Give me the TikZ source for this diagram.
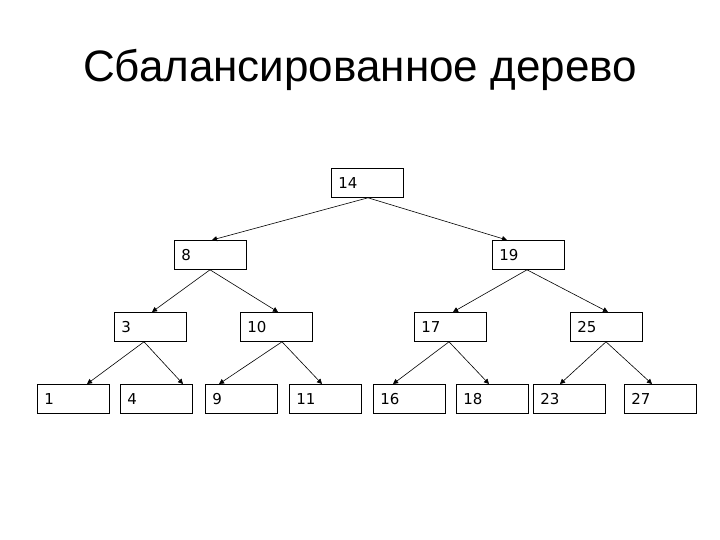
\documentclass[tikz,border=0pt]{standalone}
\usepackage{fontspec}
\setmainfont{Liberation Sans}
\newfontfamily\boxfont{DejaVu Sans}
\usetikzlibrary{arrows.meta}
\begin{document}
\begin{tikzpicture}[x=1pt,y=-1pt,
  tbox/.style={draw=black, line width=0.8pt, anchor=north west, inner xsep=7pt, inner ysep=0pt,
    text width=58pt, align=left, minimum height=29pt, text height=11pt, text depth=0pt,
    font=\boxfont\fontsize{15}{17}\selectfont},
  arr/.style={draw=black, line width=0.6pt, -{Triangle[length=5pt,width=5pt]}}]
\useasboundingbox (0,0) rectangle (720,540);
\fill[white] (0,0) rectangle (720,540);
\node (title) at (360,70) {\fontsize{44}{50}\selectfont Сбалансированное дерево};
% level 0
\node[tbox] (n14) at (331,168) {14};
% level 1
\node[tbox] (n8) at (174,240) {8};
\node[tbox] (n19) at (492,240) {19};
% level 2
\node[tbox] (n3) at (114,312) {3};
\node[tbox] (n10) at (240,312) {10};
\node[tbox] (n17) at (414,312) {17};
\node[tbox] (n25) at (570,312) {25};
% level 3
\node[tbox] (n1) at (37,384) {1};
\node[tbox] (n4) at (120,384) {4};
\node[tbox] (n9) at (205,384) {9};
\node[tbox] (n11) at (289,384) {11};
\node[tbox] (n16) at (373,384) {16};
\node[tbox] (n18) at (456,384) {18};
\node[tbox] (n23) at (533,384) {23};
\node[tbox] (n27) at (624,384) {27};
% connectors
\draw[arr] ([xshift=37pt]n14.south west) -- ([xshift=38pt]n8.north west);
\draw[arr] ([xshift=37pt]n14.south west) -- ([xshift=15pt]n19.north west);
\draw[arr] ([xshift=36pt]n8.south west) -- ([xshift=38pt]n3.north west);
\draw[arr] ([xshift=36pt]n8.south west) -- ([xshift=38pt]n10.north west);
\draw[arr] ([xshift=35pt]n19.south west) -- ([xshift=39pt]n17.north west);
\draw[arr] ([xshift=35pt]n19.south west) -- ([xshift=38pt]n25.north west);
\draw[arr] ([xshift=30pt]n3.south west) -- ([xshift=50pt]n1.north west);
\draw[arr] ([xshift=30pt]n3.south west) -- ([xshift=63pt]n4.north west);
\draw[arr] ([xshift=42pt]n10.south west) -- ([xshift=14pt]n9.north west);
\draw[arr] ([xshift=42pt]n10.south west) -- ([xshift=33pt]n11.north west);
\draw[arr] ([xshift=35pt]n17.south west) -- ([xshift=20pt]n16.north west);
\draw[arr] ([xshift=35pt]n17.south west) -- ([xshift=33pt]n18.north west);
\draw[arr] ([xshift=36pt]n25.south west) -- ([xshift=27pt]n23.north west);
\draw[arr] ([xshift=36pt]n25.south west) -- ([xshift=28pt]n27.north west);
\end{tikzpicture}
\end{document}
